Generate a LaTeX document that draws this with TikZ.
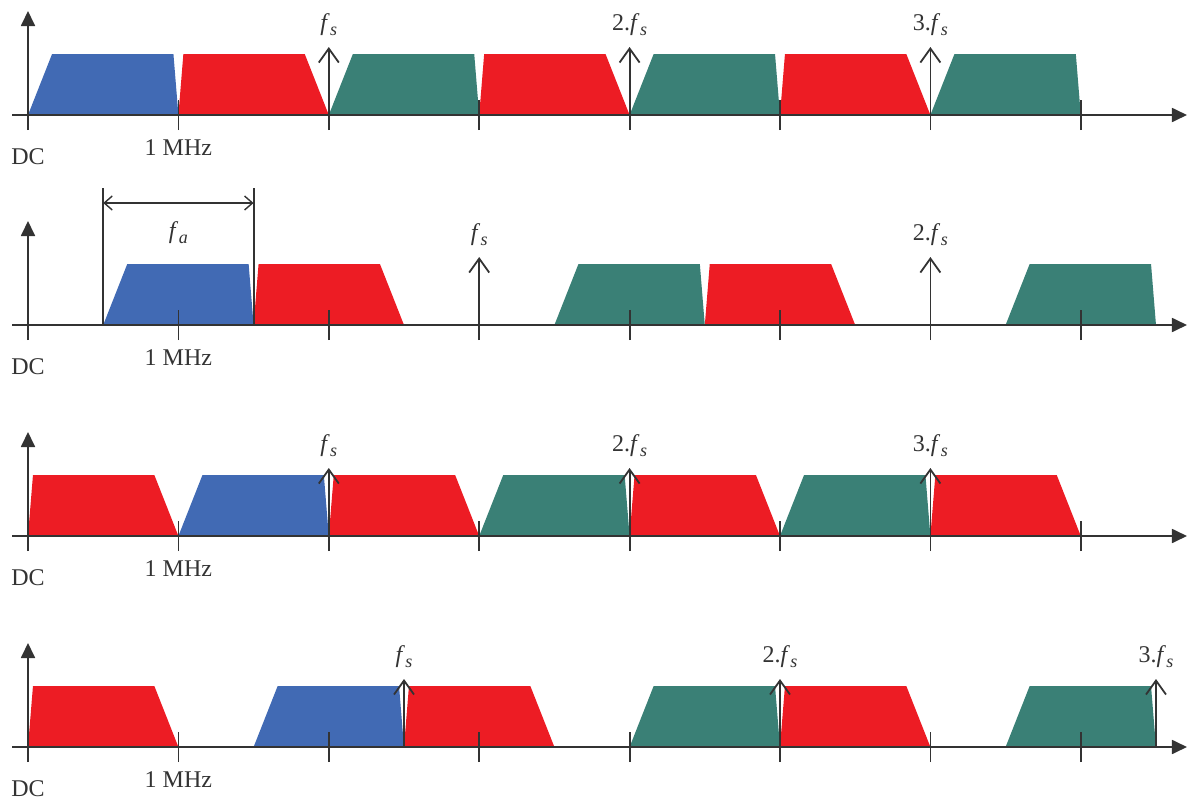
\documentclass[tikz,border=0pt]{standalone}
\usepackage{fontspec}
\setmainfont{Liberation Serif}
\usetikzlibrary{arrows.meta}
\definecolor{sigblue}{RGB}{65,106,180}
\definecolor{imgred}{RGB}{237,28,36}
\definecolor{aliasgreen}{RGB}{58,128,118}
\definecolor{axisgray}{RGB}{51,51,51}

% band with slow edge on the left / mirrored band
\newcommand{\bandup}[2]{\fill[#1] (#2,0) -- (#2+0.16,61) -- (#2+0.967,61) -- (#2+1,0) -- cycle;}
\newcommand{\banddown}[2]{\fill[#1] (#2,0) -- (#2+0.033,61) -- (#2+0.84,61) -- (#2+1,0) -- cycle;}
\newcommand{\freqsub}[1]{\textit{f}\kern0.2pt\raisebox{-0.45ex}{\fontsize{9}{9}\selectfont\textit{#1}}}

% axes, ticks and DC / 1 MHz labels of one spectrum
\newcommand{\spaxes}[1]{%
  \draw[axis] (-0.106,0) -- (7.706,0);
  \draw[axis] (0,-15) -- (0,104);
  \foreach \t in {1,...,7} \draw[tickmark] (\t,-15) -- (\t,15);
  \node[lbl] (dc#1) at (0,-42) {DC};
  \node[lbl] (mhz#1) at (1,-33) {1 MHz};
}
\newcommand{\fsmark}[3]{%
  \draw[fsarrow] (#1,0) -- (#1,68);
  \node[lbl] (#2) at (#1,90) {#3};
}

\begin{document}
\begin{tikzpicture}[
  x=75.2pt, y=0.5pt,
  axis/.style={line width=0.9pt, draw=axisgray, -{Triangle[length=7.5pt,width=7pt]}},
  tickmark/.style={line width=0.9pt, draw=axisgray},
  fsarrow/.style={line width=0.9pt, draw=axisgray, -{Straight Barb[length=7pt,width=10pt]}},
  dimarrow/.style={line width=0.7pt, draw=axisgray,
    {Straight Barb[length=4pt,width=7pt]}-{Straight Barb[length=4pt,width=7pt]}},
  lbl/.style={inner sep=0pt, text=axisgray, font=\fontsize{12}{14}\selectfont}
]
\useasboundingbox (-0.1862,115) rectangle (7.7128,-685);

%% row 1: fs = 2 MHz
\bandup{sigblue}{0}
\banddown{imgred}{1}
\bandup{aliasgreen}{2}
\banddown{imgred}{3}
\bandup{aliasgreen}{4}
\banddown{imgred}{5}
\bandup{aliasgreen}{6}
\spaxes{1}
\fsmark{2}{fsA1}{\freqsub{s}}
\fsmark{4}{fsB1}{2.\freqsub{s}}
\fsmark{6}{fsC1}{3.\freqsub{s}}

%% row 2: fs = 3 MHz, band 0.5--1.5 MHz
\begin{scope}[shift={(0,-210)}]
  \bandup{sigblue}{0.5}
  \banddown{imgred}{1.5}
  \bandup{aliasgreen}{3.5}
  \banddown{imgred}{4.5}
  \bandup{aliasgreen}{6.5}
  \spaxes{2}
  \fsmark{3}{fsA2}{\freqsub{s}}
  \fsmark{6}{fsB2}{2.\freqsub{s}}
  \coordinate (faLb) at (0.5,0);
  \coordinate (faLt) at (0.5,137);
  \coordinate (faRb) at (1.5,0);
  \coordinate (faRt) at (1.5,137);
  \coordinate (faL) at (0.5,122);
  \coordinate (faR) at (1.5,122);
  \draw[tickmark] (faLb) -- (faLt);
  \draw[tickmark] (faRb) -- (faRt);
  \draw[dimarrow] (faL) -- (faR);
  \node[lbl] (fa) at (1,92) {\freqsub{a}};
\end{scope}

%% row 3: fs = 2 MHz, band 1--2 MHz
\begin{scope}[shift={(0,-421)}]
  \banddown{imgred}{0}
  \bandup{sigblue}{1}
  \banddown{imgred}{2}
  \bandup{aliasgreen}{3}
  \banddown{imgred}{4}
  \bandup{aliasgreen}{5}
  \banddown{imgred}{6}
  \spaxes{3}
  \fsmark{2}{fsA3}{\freqsub{s}}
  \fsmark{4}{fsB3}{2.\freqsub{s}}
  \fsmark{6}{fsC3}{3.\freqsub{s}}
\end{scope}

%% row 4: fs = 2.5 MHz, band 1.5--2.5 MHz
\begin{scope}[shift={(0,-632)}]
  \banddown{imgred}{0}
  \bandup{sigblue}{1.5}
  \banddown{imgred}{2.5}
  \bandup{aliasgreen}{4}
  \banddown{imgred}{5}
  \bandup{aliasgreen}{6.5}
  \spaxes{4}
  \fsmark{2.5}{fsA4}{\freqsub{s}}
  \fsmark{5}{fsB4}{2.\freqsub{s}}
  \fsmark{7.5}{fsC4}{3.\freqsub{s}}
\end{scope}

\end{tikzpicture}
\end{document}
